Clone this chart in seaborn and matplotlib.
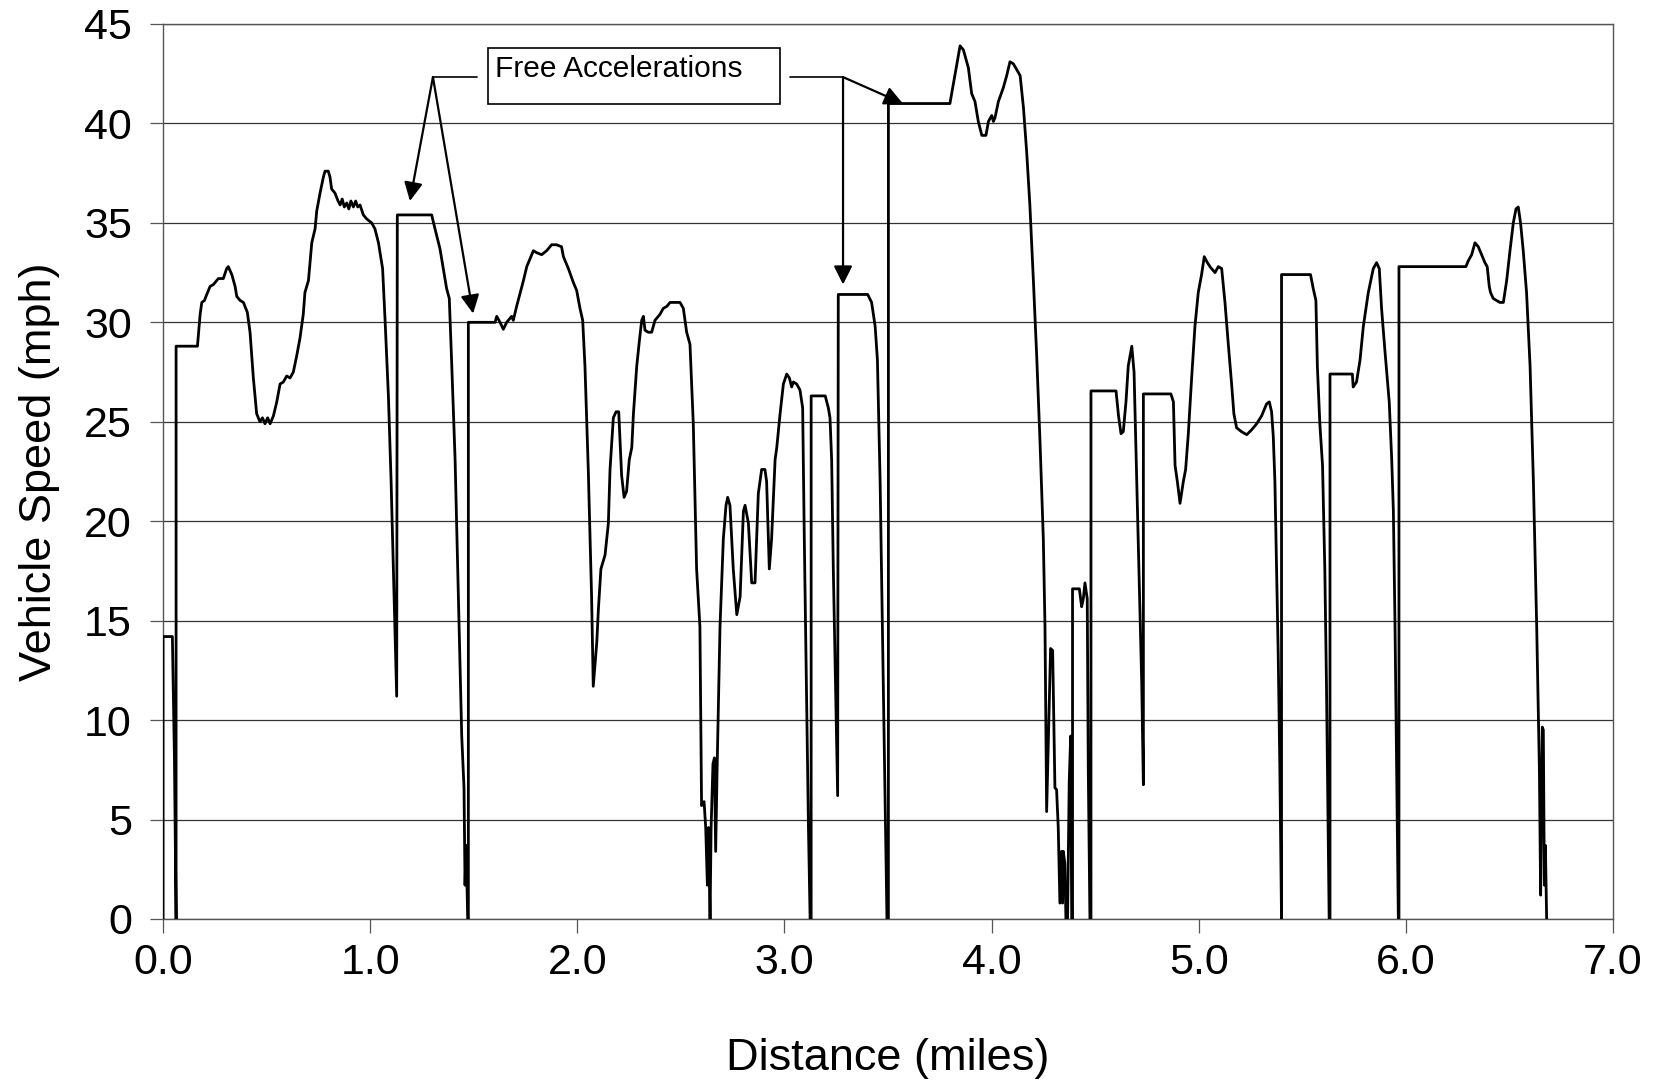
import matplotlib
matplotlib.use("Agg")
import matplotlib.pyplot as plt
from matplotlib.patches import Rectangle
import seaborn as sns
import pandas as pd

# ---- data ----
distance_miles = [
    0.000, 0.000, 0.045, 0.055, 0.063, 0.063, 0.166,
    0.179, 0.187, 0.200, 0.211, 0.227, 0.243, 0.267, 0.291, 0.307, 0.315, 0.332, 0.348, 0.356,
    0.372, 0.388, 0.407, 0.420, 0.436, 0.452, 0.468, 0.480, 0.492, 0.505, 0.517, 0.533, 0.549,
    0.565, 0.581, 0.597, 0.613, 0.629, 0.645, 0.661, 0.677, 0.685, 0.702, 0.718, 0.734, 0.742,
    0.758, 0.774, 0.782, 0.798, 0.806, 0.814, 0.830, 0.845, 0.855, 0.865, 0.875, 0.887, 0.897,
    0.907, 0.919, 0.930, 0.940, 0.951, 0.967, 0.983, 1.007, 1.023, 1.040, 1.060, 1.072, 1.088,
    1.101, 1.112, 1.128, 1.131,
    1.297, 1.313, 1.337, 1.353, 1.369, 1.382, 1.393, 1.410, 1.426, 1.442, 1.453, 1.458, 1.463,
    1.471, 1.474, 1.474, 1.603, 1.611, 1.627, 1.643, 1.659, 1.683, 1.691, 1.707, 1.740, 1.756,
    1.780, 1.788, 1.804, 1.828, 1.852, 1.876, 1.900, 1.924, 1.933, 1.957, 1.981, 1.997, 2.013,
    2.026, 2.037, 2.053, 2.069, 2.077, 2.094, 2.102, 2.114, 2.134, 2.150, 2.158, 2.174, 2.187,
    2.200, 2.214, 2.226, 2.238, 2.251, 2.263, 2.271, 2.287, 2.300, 2.311, 2.319, 2.327, 2.343,
    2.359, 2.375, 2.399, 2.415, 2.432, 2.448, 2.464, 2.480, 2.496, 2.512, 2.528, 2.544, 2.560,
    2.576, 2.592, 2.600, 2.612, 2.620, 2.628, 2.633, 2.641, 2.646, 2.655, 2.662, 2.668, 2.676,
    2.689, 2.705, 2.718, 2.726, 2.737, 2.753, 2.770, 2.786, 2.802, 2.810, 2.826, 2.842, 2.858,
    2.874, 2.890, 2.906, 2.914, 2.927, 2.938, 2.955, 2.963, 2.979, 2.995, 3.011, 3.024, 3.035,
    3.043, 3.059, 3.075, 3.088, 3.096, 3.108, 3.116, 3.124, 3.129, 3.129, 3.197, 3.212, 3.220,
    3.228, 3.236, 3.249, 3.257, 3.260, 3.402, 3.421, 3.438, 3.449, 3.462, 3.475, 3.486, 3.495,
    3.502, 3.502, 3.799, 3.848, 3.864, 3.888, 3.904, 3.920, 3.936, 3.953, 3.973, 3.985, 4.001,
    4.009, 4.017, 4.033, 4.057, 4.073, 4.089, 4.105, 4.122, 4.138, 4.154, 4.170, 4.185, 4.202,
    4.218, 4.234, 4.250, 4.258, 4.266, 4.274, 4.285, 4.295, 4.306, 4.314, 4.322, 4.330, 4.338,
    4.343, 4.346, 4.354, 4.359, 4.367, 4.375, 4.382, 4.387, 4.391, 4.391, 4.424, 4.435, 4.443,
    4.451, 4.462, 4.467, 4.475, 4.480, 4.480, 4.601, 4.613, 4.625, 4.636, 4.649, 4.660, 4.677,
    4.688, 4.701, 4.713, 4.725, 4.733, 4.733, 4.866, 4.878, 4.886, 4.897, 4.910, 4.926, 4.937,
    4.950, 4.966, 4.982, 4.998, 5.014, 5.027, 5.042, 5.058, 5.079, 5.095, 5.111, 5.127, 5.143,
    5.159, 5.170, 5.183, 5.207, 5.232, 5.256, 5.280, 5.304, 5.328, 5.341, 5.352, 5.360, 5.368,
    5.376, 5.384, 5.392, 5.400, 5.400, 5.540, 5.553, 5.566, 5.573, 5.585, 5.598, 5.609, 5.617,
    5.625, 5.630, 5.634, 5.634, 5.742, 5.746, 5.762, 5.779, 5.795, 5.819, 5.843, 5.859, 5.872,
    5.883, 5.899, 5.920, 5.932, 5.940, 5.948, 5.956, 5.964, 5.967, 5.967, 6.290, 6.302, 6.318,
    6.334, 6.350, 6.366, 6.382, 6.393, 6.403, 6.409, 6.422, 6.438, 6.454, 6.471, 6.487, 6.503,
    6.519, 6.532, 6.543, 6.554, 6.567, 6.583, 6.600, 6.616, 6.632, 6.645, 6.651, 6.659, 6.664,
    6.669, 6.674, 6.680,
]

speed_mph = [
    0.0, 14.2, 14.2, 8.1, 0.0, 28.8, 28.8,
    30.4, 31.0, 31.1, 31.4, 31.8, 31.9, 32.2, 32.2, 32.7, 32.8, 32.4, 31.8, 31.3,
    31.1, 31.0, 30.5, 29.5, 27.2, 25.4, 25.0, 25.2, 24.9, 25.2, 24.9, 25.3, 26.0,
    26.9, 27.0, 27.3, 27.2, 27.5, 28.3, 29.2, 30.4, 31.5, 32.1, 34.0, 34.7, 35.6,
    36.5, 37.3, 37.6, 37.6, 37.3, 36.7, 36.5, 36.1, 35.9, 36.2, 35.8, 36.0, 35.7,
    36.1, 35.8, 36.1, 35.8, 35.9, 35.4, 35.2, 35.0, 34.7, 34.0, 32.7, 30.1, 26.3,
    22.0, 17.6, 11.2, 35.4,
    35.4, 34.7, 33.7, 32.7, 31.7, 31.2, 28.1, 23.1, 16.2, 9.2, 6.6, 1.7, 3.7,
    0.0, 0.0, 30.0, 30.0, 30.3, 30.0, 29.65, 30.0, 30.3, 30.1, 30.8, 32.1, 32.8,
    33.4, 33.6, 33.5, 33.4, 33.6, 33.9, 33.9, 33.8, 33.3, 32.7, 32.0, 31.6, 30.7,
    30.1, 27.8, 22.6, 16.2, 11.7, 13.9, 15.6, 17.6, 18.3, 19.9, 22.6, 25.2, 25.5,
    25.5, 22.3, 21.2, 21.5, 23.1, 23.7, 25.4, 27.8, 29.1, 30.1, 30.3, 29.6, 29.5,
    29.5, 30.1, 30.4, 30.7, 30.8, 31.0, 31.0, 31.0, 31.0, 30.7, 29.5, 28.9, 24.9,
    17.6, 14.7, 5.7, 5.9, 4.6, 1.7, 4.6, 0.0, 4.6, 7.8, 8.1, 3.4, 8.1,
    14.7, 19.1, 20.8, 21.2, 20.8, 17.6, 15.3, 16.2, 20.5, 20.8, 19.9, 16.9, 16.9,
    21.4, 22.6, 22.6, 22.0, 17.6, 19.1, 23.1, 23.7, 25.4, 26.9, 27.4, 27.2, 26.75,
    27.0, 26.9, 26.6, 25.7, 19.1, 10.4, 4.6, 0.0, 0.0, 26.3, 26.3, 25.7, 25.2,
    23.1, 17.6, 10.4, 6.2, 31.4, 31.4, 31.0, 29.8, 28.1, 22.0, 13.3, 6.0, 0.0,
    0.0, 41.0, 41.0, 43.9, 43.7, 42.8, 41.5, 41.1, 40.1, 39.4, 39.4, 40.1, 40.4,
    40.1, 40.3, 41.1, 41.8, 42.4, 43.1, 43.0, 42.7, 42.4, 40.8, 38.5, 35.9, 32.1,
    28.3, 24.0, 19.1, 14.7, 5.4, 8.9, 13.6, 13.5, 6.6, 6.5, 4.6, 0.8, 3.4,
    0.8, 3.4, 2.8, 0.0, 0.0, 6.9, 9.2, 0.0, 0.0, 16.6, 16.6, 15.7, 16.1,
    16.9, 16.1, 7.5, 0.0, 0.0, 26.55, 26.55, 25.3, 24.4, 24.5, 26.0, 27.8, 28.8,
    27.5, 22.0, 16.8, 11.9, 6.75, 26.4, 26.4, 26.0, 22.8, 22.0, 20.9, 22.0, 22.6,
    24.4, 27.2, 29.8, 31.5, 32.4, 33.3, 33.0, 32.75, 32.5, 32.8, 32.7, 31.0, 28.9,
    26.9, 25.4, 24.7, 24.5, 24.35, 24.6, 24.9, 25.3, 25.9, 26.0, 25.5, 24.3, 22.0,
    17.6, 13.3, 7.5, 0.0, 32.4, 32.4, 31.7, 31.1, 27.8, 24.9, 22.8, 17.6, 11.8,
    4.6, 0.0, 0.0, 27.4, 27.4, 26.75, 27.0, 28.1, 29.8, 31.5, 32.7, 33.0, 32.7,
    30.7, 28.6, 26.0, 23.1, 20.5, 14.7, 7.5, 0.0, 0.0, 32.8, 32.8, 33.1, 33.4,
    34.0, 33.8, 33.4, 33.0, 32.8, 31.8, 31.5, 31.2, 31.1, 31.0, 31.0, 32.1, 33.6,
    35.0, 35.7, 35.8, 35.0, 33.6, 31.5, 27.8, 22.0, 14.7, 7.5, 1.2, 9.65, 9.5,
    1.7, 3.7, 0.0,
]

x_ticks = [0.0, 1.0, 2.0, 3.0, 4.0, 5.0, 6.0, 7.0]
x_tick_labels = ["0.0", "1.0", "2.0", "3.0", "4.0", "5.0", "6.0", "7.0"]
y_ticks = [0, 5, 10, 15, 20, 25, 30, 35, 40, 45]
annotation_text = "Free Accelerations"
x_label = "Distance (miles)"
y_label = "Vehicle Speed (mph)"

# ---- style ----
sns.set_theme(style="white")
plt.rcParams["font.family"] = ["Liberation Sans", "DejaVu Sans"]
plt.rcParams["text.color"] = "black"
plt.rcParams["axes.labelcolor"] = "black"
plt.rcParams["xtick.color"] = "black"
plt.rcParams["ytick.color"] = "black"

fig = plt.figure(figsize=(16.57, 10.85), dpi=100)
ax = fig.add_axes([0.0984, 0.1530, 0.875, 0.8249])

df = pd.DataFrame({"distance": distance_miles, "speed": speed_mph})
sns.lineplot(data=df, x="distance", y="speed", sort=False, estimator=None,
             color="black", linewidth=2.0, ax=ax, zorder=3)

ax.set_xlim(0, 7)
ax.set_ylim(0, 45)
ax.set_xticks(x_ticks)
ax.set_xticklabels(x_tick_labels)
ax.set_yticks(y_ticks)

ax.yaxis.grid(True, color="#333333", linewidth=0.9)
ax.xaxis.grid(False)
ax.set_axisbelow(True)

for side in ["left", "right", "top", "bottom"]:
    ax.spines[side].set_visible(True)
    ax.spines[side].set_color("#555555")
    ax.spines[side].set_linewidth(1.0)

ax.tick_params(axis="x", direction="out", length=10, width=0.9, color="#555555",
               labelcolor="black", labelsize=31, pad=7, bottom=True)
ax.tick_params(axis="y", direction="out", length=9.5, width=0.9, color="#555555",
               labelcolor="black", labelsize=31, pad=13, left=True)

ax.set_xlabel(x_label, fontsize=32.5, labelpad=40, color="black")
ax.set_ylabel(y_label, fontsize=32.5, labelpad=17, color="black")

# ---- annotation ----
box = Rectangle((1.569, 40.98), 1.41, 2.81, facecolor="white", edgecolor="black",
                linewidth=1.2, zorder=5)
ax.add_patch(box)
ax.text(1.603, 42.74, annotation_text, fontsize=21.5, ha="left", va="center", zorder=6)

line_kw = dict(color="black", linewidth=1.2, zorder=5)
ax.plot([1.303, 1.516], [42.33, 42.33], **line_kw)
ax.plot([3.027, 3.283], [42.33, 42.33], **line_kw)

arrow_kw = dict(arrowstyle="-|>", color="black", lw=1.6, mutation_scale=28,
                shrinkA=0, shrinkB=0)
for tip, base in [((1.192, 36.1), (1.303, 42.33)),
                  ((1.497, 30.44), (1.303, 42.33)),
                  ((3.283, 31.9), (3.283, 42.33)),
                  ((3.572, 41.0), (3.283, 42.33))]:
    ax.annotate("", xy=tip, xytext=base, arrowprops=arrow_kw, zorder=6)

fig.savefig("out.png", dpi=100)
